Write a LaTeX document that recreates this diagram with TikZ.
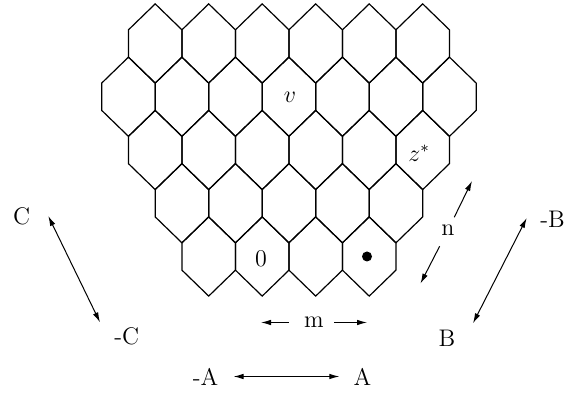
\documentclass[tikz,border=0pt]{standalone}
\usetikzlibrary{arrows.meta}
\begin{document}
\begin{tikzpicture}[
        x=0.5pt, y=0.5pt,
        cell/.style={semithick, line join=miter},
        lbl/.style={font=\large, inner sep=1pt},
        dir/.style={line width=0.5pt, {Latex[length=5pt,width=2.8pt]}-{Latex[length=5pt,width=2.8pt]}},
        half/.style={line width=0.5pt, -{Latex[length=5pt,width=2.8pt]}}
    ]
    \useasboundingbox (0,0) rectangle (577,394);

    \def\hw{26.75} % half width of a cell
    \def\sd{13.65} % half of the vertical side
    \def\ap{39.6}  % centre to apex
    \def\dy{53.25} % row step

    % cells: row / offset (half widths) / count
    \foreach \r/\o/\cnt in {0/1/6, 1/0/7, 2/1/6, 3/2/5, 4/3/4} {
        \foreach \k in {1,...,\cnt} {
            \pgfmathsetmacro\cx{128.45 + \o*\hw + (\k-1)*2*\hw}
            \pgfmathsetmacro\cy{350.5 - \r*\dy}
            \draw[cell] (\cx-\hw, \cy+\sd) -- (\cx, \cy+\ap) -- (\cx+\hw, \cy+\sd)
                -- (\cx+\hw, \cy-\sd) -- (\cx, \cy-\ap) -- (\cx-\hw, \cy-\sd) -- cycle;
        }
    }

    % cell labels
    \node[lbl] (v) at (290, 296.5) {$v$};
    \node[lbl] (zs) at (419, 241) {$z^*$};
    \node[lbl] (zero) at (261, 135.5) {0};
    \node[circle, fill, inner sep=0pt, minimum size=5pt] (dot) at (367, 137.5) {};

    % n
    \node[lbl] (n) at (448, 164) {n};
    \coordinate (nU) at (472, 213);
    \coordinate (nD) at (420.5, 110.5);
    \draw[half, shorten <=2.8pt] (n) -- (nU);
    \draw[half, shorten <=4.8pt] (n) -- (nD);

    % m
    \node[lbl] (m) at (314, 71.5) {m};
    \coordinate (mL) at (261, 71.5);
    \coordinate (mR) at (367, 71.5);
    \draw[half, shorten <=6.5pt] (m) -- (mL);
    \draw[half, shorten <=4pt] (m) -- (mR);

    % C axis
    \node[lbl] (C) at (21.7, 178) {C};
    \node[lbl] (mC) at (126.7, 58) {-C};
    \coordinate (c1) at (48.3, 178);
    \coordinate (c2) at (100, 71.7);
    \draw[dir] (c1) -- (c2);

    % B axis
    \node[lbl] (mB) at (552.5, 174.5) {-B};
    \node[lbl] (B) at (447, 56) {B};
    \coordinate (b1) at (526.7, 176);
    \coordinate (b2) at (473, 70.7);
    \draw[dir] (b1) -- (b2);

    % A axis
    \node[lbl] (mA) at (205.5, 17.5) {-A};
    \node[lbl] (A) at (362.5, 17.5) {A};
    \draw[dir, shorten <=6.5pt, shorten >=6pt] (mA) -- (A);

\end{tikzpicture}
\end{document}
